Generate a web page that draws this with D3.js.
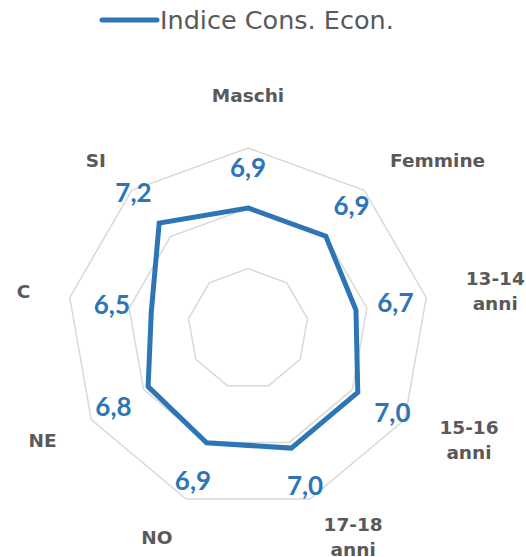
<!DOCTYPE html>
<html>
<head>
<meta charset="utf-8">
<script src="https://cdn.jsdelivr.net/npm/d3@7"></script>
<style>
  body { margin: 0; background: #fff; }
</style>
</head>
<body>
<div id="chart"></div>
<script>
// data
var categories = ["Maschi", "Femmine", "13-14 anni", "15-16 anni", "17-18 anni", "NO", "NE", "C", "SI"];
var values = [6.9, 6.9, 6.7, 7.0, 7.0, 6.9, 6.8, 6.5, 7.2];
var seriesName = "Indice Cons. Econ.";
var axisRange = [4.78, 7.95];
var gridLevels = 3;

var width = 526, height = 557;
var cx = 248, cy = 329, radius = 181;
var blue = "#2E75B6", grey = "#595959", gridColor = "#D9D9D9";

var svg = d3.select("#chart")
  .append("svg")
    .attr("width", width)
    .attr("height", height);

var r = d3.scaleLinear()
  .domain(axisRange)
  .range([0, radius]);

var angle = d3.scaleLinear()
  .domain([0, categories.length])
  .range([0, 2 * Math.PI]);

var itFormat = d3.formatLocale({decimal: ",", thousands: ".", grouping: [3], currency: ["", "€"]}).format(".1f");

var g = svg.append("g")
  .attr("transform", "translate(" + cx + "," + cy + ")");

// grid rings
var ringLine = function(rad) {
  return d3.lineRadial()
    .angle(function(d, i) { return angle(i); })
    .radius(rad)
    .curve(d3.curveLinearClosed);
};
g.selectAll(".ring")
  .data(d3.range(1, gridLevels + 1))
  .enter()
  .append("path")
    .attr("class", "ring")
    .attr("d", function(k) { return ringLine(radius * k / gridLevels)(categories); })
    .attr("fill", "none")
    .attr("stroke", gridColor)
    .attr("stroke-width", 1.5);

// series line
var dataLine = d3.lineRadial()
  .angle(function(d, i) { return angle(i); })
  .radius(function(d) { return r(d); })
  .curve(d3.curveLinearClosed);

g.append("path")
  .datum(values)
  .attr("d", dataLine)
  .attr("fill", "none")
  .attr("stroke", blue)
  .attr("stroke-width", 5)
  .attr("stroke-linejoin", "miter");

// value labels
var px = function(rad, i) { return rad * Math.sin(angle(i)); };
var py = function(rad, i) { return -rad * Math.cos(angle(i)); };

g.selectAll(".valLabel")
  .data(values)
  .enter()
  .append("text")
    .attr("class", "valLabel")
    .attr("x", function(d, i) { return px(r(d) + 40, i); })
    .attr("y", function(d, i) { return py(r(d) + 40, i); })
    .attr("dy", "0.36em")
    .attr("text-anchor", "middle")
    .style("font-family", "Lato, sans-serif")
    .style("font-weight", "bold")
    .style("font-size", "26px")
    .style("fill", blue)
    .text(function(d) { return itFormat(d); });

// category labels (multi-line ones are centred inside their block)
var labR = radius + 40, lineH = 25, capH = 14;
var cat = g.selectAll(".catLabel")
  .data(categories)
  .enter()
  .append("text")
    .attr("class", "catLabel")
    .attr("text-anchor", "middle")
    .style("font-family", "'DejaVu Sans', sans-serif")
    .style("font-weight", "bold")
    .style("font-size", "18.5px")
    .style("fill", grey);

cat.each(function(d, i) {
  var lines = d.split(" ");
  var x = px(labR, i), y = py(labR, i);
  var sx = Math.sin(angle(i));
  var first;
  if (Math.abs(sx) < 0.1 && Math.cos(angle(i)) > 0) {
    first = y - 6;
  } else {
    first = y - (lines.length - 1) * lineH / 2 + capH / 2;
  }
  var spans = d3.select(this).selectAll("tspan")
    .data(lines)
    .enter()
    .append("tspan")
      .attr("y", function(l, j) { return first + j * lineH; })
      .text(function(l) { return l; });
  var w = 0;
  spans.each(function() { w = Math.max(w, this.getComputedTextLength()); });
  var mid = Math.abs(sx) < 0.1 ? x : (sx > 0 ? x + w / 2 : x - w / 2);
  spans.attr("x", mid);
});

// legend
var legend = svg.append("g");
legend.append("line")
  .attr("x1", 102)
  .attr("x2", 157)
  .attr("y1", 20)
  .attr("y2", 20)
  .attr("stroke", blue)
  .attr("stroke-width", 5)
  .attr("stroke-linecap", "round");
legend.append("text")
  .attr("x", 160)
  .attr("y", 29)
  .style("font-family", "'DejaVu Sans', sans-serif")
  .style("font-size", "25.5px")
  .style("fill", grey)
  .text(seriesName);
</script>
</body>
</html>
